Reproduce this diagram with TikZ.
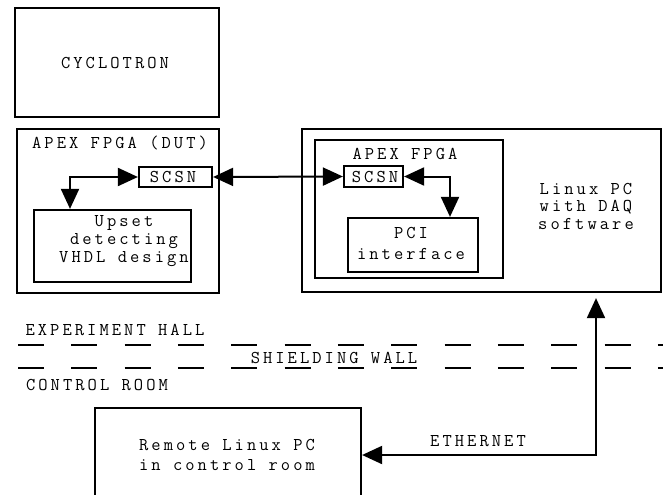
\documentclass[tikz,border=0pt]{standalone}
\usepackage{fontspec}
\setmonofont{Latin Modern Mono}[LetterSpace=17]
\usetikzlibrary{arrows.meta}
\newcommand\mylf[1]{\ttfamily\fontsize{18}{#1}\selectfont}
\begin{document}
\begin{tikzpicture}[x=1pt,y=-1pt,
  box/.style={draw, line width=2.2pt, inner sep=0pt},
  lbl/.style={font=\mylf{18}, inner sep=0pt, align=center},
  tip/.tip={Triangle[length=20pt,width=18pt]},
  conn/.style={line width=2pt, tip-tip},
  wall/.style={line width=2.4pt, dash pattern=on 26pt off 27.33pt}]
\useasboundingbox (0,0) rectangle (669,495);

% boxes
\node[box, minimum width=204pt, minimum height=109pt] (cyc) at (117,62.5) {};
\node[lbl] (cyctxt) at (115,63) {CYCLOTRON};

\node[box, minimum width=202pt, minimum height=164pt] (dut) at (118,211) {};
\node[lbl] (duttxt) at (120,143) {APEX FPGA (DUT)};
\node[box, minimum width=73pt, minimum height=20pt] (scsnL) at (175.5,177) {};
\node[lbl] (scsnLtxt) at (173,177) {SCSN};
\node[box, minimum width=157pt, minimum height=72pt] (upset) at (112.5,246) {};
\node[lbl, font=\mylf{18}] (upsettxt) at (124,241) {Upset\\detecting\\VHDL design};

\node[box, minimum width=359pt, minimum height=163pt] (pc) at (481.5,210.5) {};
\node[lbl, font=\mylf{17.5}] (pctxt) at (586,206) {Linux PC\\with DAQ\\software};
\node[box, minimum width=188pt, minimum height=138pt] (apex) at (409,209) {};
\node[lbl] (apextxt) at (405,154) {APEX FPGA};
\node[box, minimum width=59pt, minimum height=21pt] (scsnR) at (373.5,176.5) {};
\node[lbl] (scsnRtxt) at (375,177) {SCSN};
\node[box, minimum width=130pt, minimum height=54pt] (pci) at (413,245) {};
\node[lbl, font=\mylf{21}] (pcitxt) at (411,243.5) {PCI\\interface};

\node[box, minimum width=266pt, minimum height=110pt, anchor=north] (remote) at (228,407) {};
\node[lbl, font=\mylf{20}] (remtxt) at (227,455) {Remote Linux PC\\in control room};

% shielding wall
\draw[wall] (18,345) -- (663,345);
\draw[wall] (18,368) -- (663,368);
\node[lbl] (exph) at (115,330) {EXPERIMENT HALL};
\node[lbl] (shw) at (334,358) {SHIELDING WALL};
\node[lbl] (ctrl) at (97,385) {CONTROL ROOM};

% connectors
\coordinate (k1) at (70,0);
\coordinate (k2) at (450,0);
\coordinate (e1) at (596,455);
\draw[conn] (scsnL.west) -| (upset.north -| k1);
\draw[conn] (scsnL.east) -- (scsnR.west);
\draw[conn] (scsnR.east) -| (pci.north -| k2);
\draw[conn, shorten >=5pt] (remote.east |- e1) -- (e1) -- (pc.south -| e1);
\node[lbl] (eth) at (478,441) {ETHERNET};
\end{tikzpicture}
\end{document}
